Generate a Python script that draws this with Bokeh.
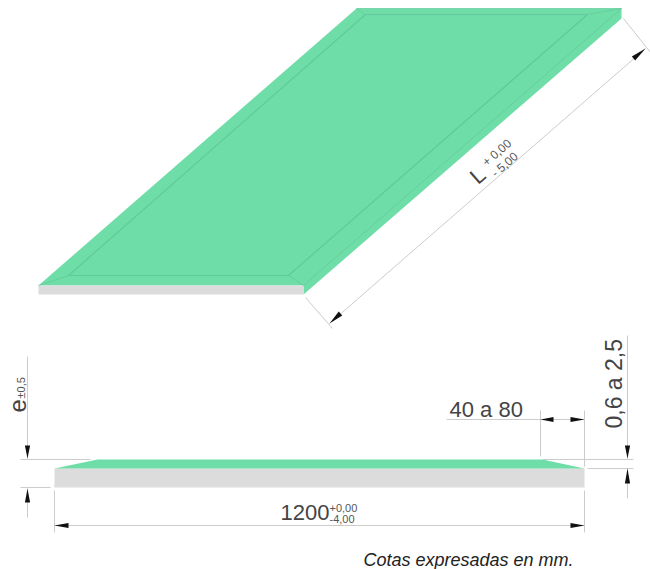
from bokeh.plotting import figure
from bokeh.embed import file_html
from bokeh.resources import INLINE
from bokeh.core.properties import value
import math

GREEN = "#6FDDA7"
EDGE = "#62C99A"
GRAY = "#DCDCDC"
DIM = "#CCCCCC"
TXT = "#444444"
FONT = "Liberation Sans"

# filled faces: (xs, ys, colour)
face_top = ([38, 356, 621, 621, 303, 303, 38], [285, 8, 8, 18, 294, 285, 285], GREEN)
face_front = ([38, 303, 303, 38], [285, 285, 294, 294], GRAY)
side_body = ([54, 584, 584, 54], [468, 468, 487, 487], GRAY)
side_bevel = ([54, 97, 542, 584], [468, 459, 459, 468], GREEN)

# bevel edges of the sheet
edges = [
    ([68, 288, 587, 365, 68], [275, 275, 14, 14, 275], 1.2),
    ([38, 68], [285, 275], 0.7),
    ([303, 288], [285, 275], 0.7),
    ([356, 365], [8, 14], 0.7),
    ([621, 587], [8, 14], 0.7),
    ([303, 621], [285, 8], 0.7),
    ([356, 621], [8, 8], 0.7),
]

# dimension and extension lines
dim_lines = [
    ([305, 332], [297, 328]),
    ([623, 650], [18, 52]),
    ([329, 645], [323, 48]),
    ([27, 27], [356, 458]),
    ([27, 27], [488, 517]),
    ([20, 90], [459, 459]),
    ([20, 50], [487, 487]),
    ([54, 54], [490, 532]),
    ([54, 584], [525, 525]),
    ([584, 584], [490, 532]),
    ([627, 627], [335, 458]),
    ([627, 627], [468, 498]),
    ([542, 633], [459, 459]),
    ([587, 633], [468, 468]),
    ([446, 584], [419, 419]),
    ([540, 540], [410, 456]),
    ([584, 584], [410, 466]),
]

# arrowheads: tip x, tip y, base x, base y
arrows = [
    (329, 323, 340, 313),
    (645, 48, 633, 58),
    (27, 458, 27, 445),
    (27, 488, 27, 502),
    (54, 525, 68, 525),
    (584, 525, 570, 525),
    (627, 458, 627, 445),
    (627, 468, 627, 483),
    (540, 419, 553, 419),
    (584, 419, 570, 419),
]

# texts: string, baseline x, baseline y, size, angle in degrees, colour, style
labels = [
    ("L", 477, 184, 22, 41, TXT, "normal"),
    ("+ 0,00", 486, 166, 12, 41, "#555555", "normal"),
    ("- 5,00", 495, 177, 12, 41, "#555555", "normal"),
    ("e", 24, 412, 24, 90, TXT, "normal"),
    ("\u00b10,5", 24, 398, 11, 90, "#555555", "normal"),
    ("0,6 a 2,5", 620, 428, 23, 90, TXT, "normal"),
    ("40 a 80", 449, 416, 22, 0, TXT, "normal"),
    ("1200", 280, 519, 22, 0, TXT, "normal"),
    ("+0,00", 329, 511, 11, 0, "#555555", "normal"),
    ("-4,00", 329, 522, 11, 0, "#555555", "normal"),
    ("Cotas expresadas en mm.", 363, 565, 18, 0, "#222222", "italic"),
]
BASELINE_SHIFT = 0.3  # em, lift applied to reach the true baseline

p = figure(width=650, height=569, x_range=(0, 650), y_range=(569, 0),
           output_backend="svg", toolbar_location=None, min_border=0,
           background_fill_color="white", border_fill_color="white")
p.axis.visible = False
p.grid.visible = False
p.outline_line_color = None

for xs, ys, c in (face_top, face_front, side_body, side_bevel):
    p.patch(xs, ys, fill_color=c, line_color=None)

for xs, ys, w in edges:
    p.line(xs, ys, line_color=EDGE, line_width=w)

for xs, ys in dim_lines:
    p.line(xs, ys, line_color=DIM, line_width=1)

ax, ay = [], []
for tx, ty, bx, by in arrows:
    L = math.hypot(bx - tx, by - ty)
    nx, ny = -(by - ty) / L * 2.6, (bx - tx) / L * 2.6
    ax.append([tx, bx + nx, bx - nx])
    ay.append([ty, by + ny, by - ny])
p.patches(ax, ay, fill_color="#111111", line_color=None)

for s, x, y, size, ang, col, style in labels:
    a = math.radians(ang)
    d = BASELINE_SHIFT * size
    p.text([x - math.sin(a) * d], [y - math.cos(a) * d], text=[s], angle=[a],
           text_font=value(FONT), text_font_size=f"{size}px",
           text_color=col, text_font_style=style,
           text_align="left", text_baseline="alphabetic")

open("out.html", "w").write(file_html(p, INLINE))
